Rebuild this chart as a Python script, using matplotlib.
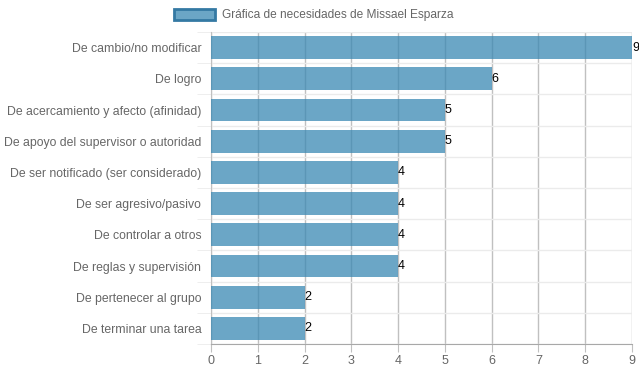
import matplotlib.pyplot as plt
from matplotlib.patches import Rectangle
import numpy as np

plt.rcParams['font.family'] = ['Liberation Sans', 'DejaVu Sans']

categorias = ['De cambio/no modificar', 'De logro', 'De acercamiento y afecto (afinidad)',
              'De apoyo del supervisor o autoridad', 'De ser notificado (ser considerado)',
              'De ser agresivo/pasivo', 'De controlar a otros', 'De reglas y supervisión',
              'De pertenecer al grupo', 'De terminar una tarea']
valores = [9, 6, 5, 5, 4, 4, 4, 4, 2, 2]
ticks_x = list(range(0, 10))
titulo = 'Gráfica de necesidades de Missael Esparza'

color_barra = (58/255, 136/255, 179/255)
gris = '#666666'

fig = plt.figure(figsize=(6.39, 3.72), dpi=100)
ax = fig.add_axes([211/639, 28/372, 421/639, 312/372])

y = np.arange(len(categorias))
ax.barh(y, valores, height=0.73, color=color_barra, alpha=0.75, zorder=3)
for yi, v in zip(y, valores):
    ax.text(v, yi, str(v), ha='left', va='center', fontsize=9, color='black', zorder=4)

ax.set_xlim(0, 9)
ax.set_ylim(len(categorias) - 0.5, -0.5)
ax.set_xticks(ticks_x)
ax.set_yticks(y)
ax.set_yticklabels(categorias)
ax.set_yticks(np.arange(-0.5, len(categorias), 1), minor=True)

ax.grid(axis='x', color='#c0c0c0', lw=1, zorder=1)
ax.grid(axis='y', which='minor', color='#ebebeb', lw=1, zorder=1)
ax.tick_params(axis='x', colors='#c0c0c0', labelcolor=gris, labelsize=9, length=6, pad=2)
ax.tick_params(axis='y', which='major', length=0, labelcolor=gris, labelsize=8.8, pad=7)
ax.tick_params(axis='y', which='minor', length=10, color='#ebebeb')

for s in ['top', 'right']:
    ax.spines[s].set_visible(False)
ax.spines['left'].set_color('#c0c0c0')
ax.spines['bottom'].set_color('#a8a8a8')

# leyenda
fig.add_artist(Rectangle((174/639, 1 - 20/372), 41/639, 11/372, transform=fig.transFigure,
                         facecolor='#6ba6c6', edgecolor='#3479a3', lw=2))
fig.text(222/639, 1 - 15/372, titulo, ha='left', va='center', fontsize=8.6, color=gris)

fig.savefig('out.png', dpi=100)
